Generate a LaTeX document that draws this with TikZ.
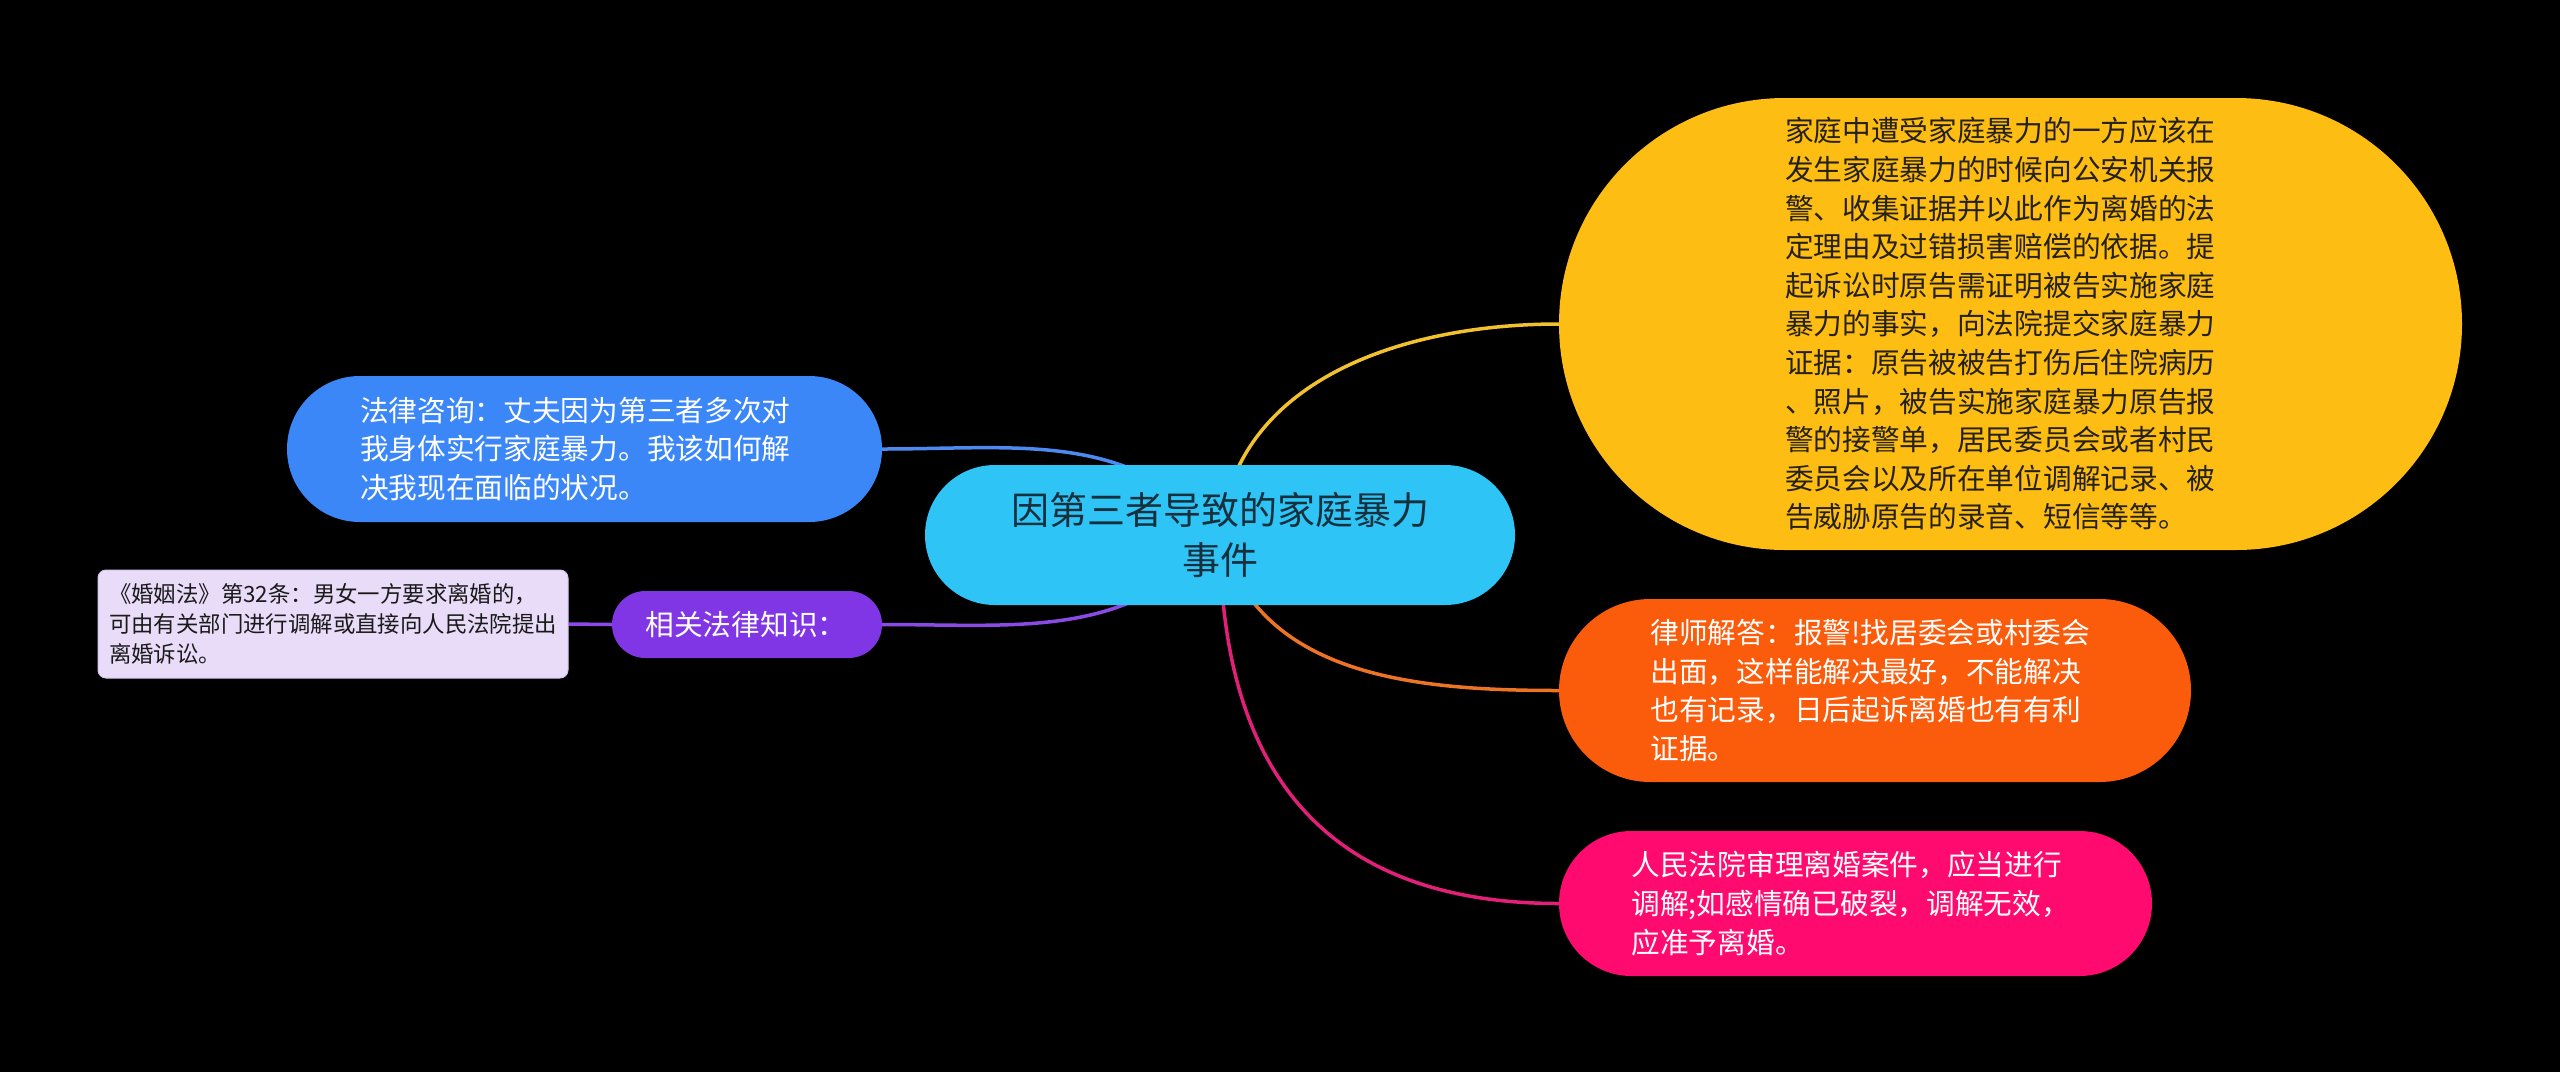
\documentclass[tikz,border=0pt]{standalone}
\usepackage{fontspec}
\setmainfont{Noto Sans CJK SC}
\usetikzlibrary{calc}
\definecolor{bgc}{HTML}{000000}
\definecolor{rootfill}{HTML}{2EC4F5}
\definecolor{roottext}{HTML}{17303E}
\definecolor{yelfill}{HTML}{FDBD12}
\definecolor{yeltext}{HTML}{262118}
\definecolor{yelline}{HTML}{F2C12E}
\definecolor{orafill}{HTML}{FA5C0B}
\definecolor{oraline}{HTML}{EC7424}
\definecolor{pinkfill}{HTML}{FF0A6E}
\definecolor{pinkline}{HTML}{E2207A}
\definecolor{bluefill}{HTML}{3C87F7}
\definecolor{blueline}{HTML}{4D8AF0}
\definecolor{purfill}{HTML}{8036E4}
\definecolor{purline}{HTML}{8B4AE6}
\definecolor{lpfill}{HTML}{E9DCF9}
\definecolor{lpdraw}{HTML}{D6C4F2}
\definecolor{lptext}{HTML}{1A1A1A}
\pgfdeclarelayer{bg}
\pgfdeclarelayer{lines}
\pgfsetlayers{bg,lines,main}
\begin{document}
\begin{tikzpicture}[x=1pt,y=-1pt,
  pill/.style={draw=none, rectangle, inner ysep=0pt, align=left,
    font=\fontsize{28.7pt}{38.6pt}\selectfont, text=white},
  conn/.style={line width=3.5pt},
]
\begin{pgfonlayer}{bg}
  \fill[bgc] (0,0) rectangle (2560,1072);
\end{pgfonlayer}
\useasboundingbox (0,0) rectangle (2560,1072);

\node[pill, fill=rootfill, text=roottext, align=center,
  font=\fontsize{38pt}{50pt}\selectfont,
  minimum width=590pt, minimum height=140pt, text width=450pt,
  inner xsep=70pt, rounded corners=69.9pt] (root) at (1220,535)
  {因第三者导致的家庭暴力\\事件};

\node[pill, fill=yelfill, text=yeltext,
  minimum width=903pt, minimum height=452pt, text width=451pt,
  inner xsep=226pt, rounded corners=225.9pt] (yellow) at (2010.5,324)
  {家庭中遭受家庭暴力的一方应该在\\发生家庭暴力的时候向公安机关报\\警、收集证据并以此作为离婚的法\\定理由及过错损害赔偿的依据。提\\起诉讼时原告需证明被告实施家庭\\暴力的事实，向法院提交家庭暴力\\证据：原告被被告打伤后住院病历\\、照片，被告实施家庭暴力原告报\\警的接警单，居民委员会或者村民\\委员会以及所在单位调解记录、被\\告威胁原告的录音、短信等等。};

\node[pill, fill=orafill,
  minimum width=632pt, minimum height=183pt, text width=449pt,
  inner xsep=91.5pt, rounded corners=91.4pt] (orange) at (1875,690.5)
  {律师解答：报警!找居委会或村委会\\出面，这样能解决最好，不能解决\\也有记录，日后起诉离婚也有有利\\证据。};

\node[pill, fill=pinkfill,
  minimum width=593pt, minimum height=145pt, text width=448pt,
  inner xsep=72.5pt, rounded corners=72.4pt] (pink) at (1855.5,903.5)
  {人民法院审理离婚案件，应当进行\\调解;如感情确已破裂，调解无效，\\应准予离婚。};

\node[pill, fill=bluefill,
  minimum width=595pt, minimum height=146pt, text width=449pt,
  inner xsep=73pt, rounded corners=72.9pt] (blue) at (584.5,449)
  {法律咨询：丈夫因为第三者多次对\\我身体实行家庭暴力。我该如何解\\决我现在面临的状况。};

\node[pill, fill=purfill,
  minimum width=270pt, minimum height=67pt, text width=203pt,
  inner xsep=33.5pt, rounded corners=33.4pt] (purple) at (747,624.5)
  {相关法律知识：};

\node[rectangle, fill=lpfill, draw=lpdraw, line width=1pt, text=lptext,
  align=left, font=\fontsize{22.4pt}{30pt}\selectfont,
  minimum width=470pt, minimum height=108pt, text width=448pt,
  inner xsep=11pt, inner ysep=0pt, rounded corners=8pt] (lp) at (333,624)
  {《婚姻法》第32条：男女一方要求离婚的，\\可由有关部门进行调解或直接向人民法院提出\\离婚诉讼。};

\begin{pgfonlayer}{lines}
  \draw[conn, yelline] (root.center) .. controls +(14,-155) and +(-156,0) .. (yellow.west);
  \draw[conn, oraline] (root.center) .. controls +(38,141) and +(-146,0) .. (orange.west);
  \draw[conn, pinkline] (root.center) .. controls +(0,235) and +(-235,0) .. (pink.west);
  \draw[conn, blueline] (blue.east) .. controls +(137,0) and +(-88,-105) .. (root.center);
  \draw[conn, purline] (purple.east) .. controls +(137,0) and +(-88,105) .. (root.center);
  \draw[conn, purline] (lp.east) -- (purple.west);
\end{pgfonlayer}
\end{tikzpicture}
\end{document}
